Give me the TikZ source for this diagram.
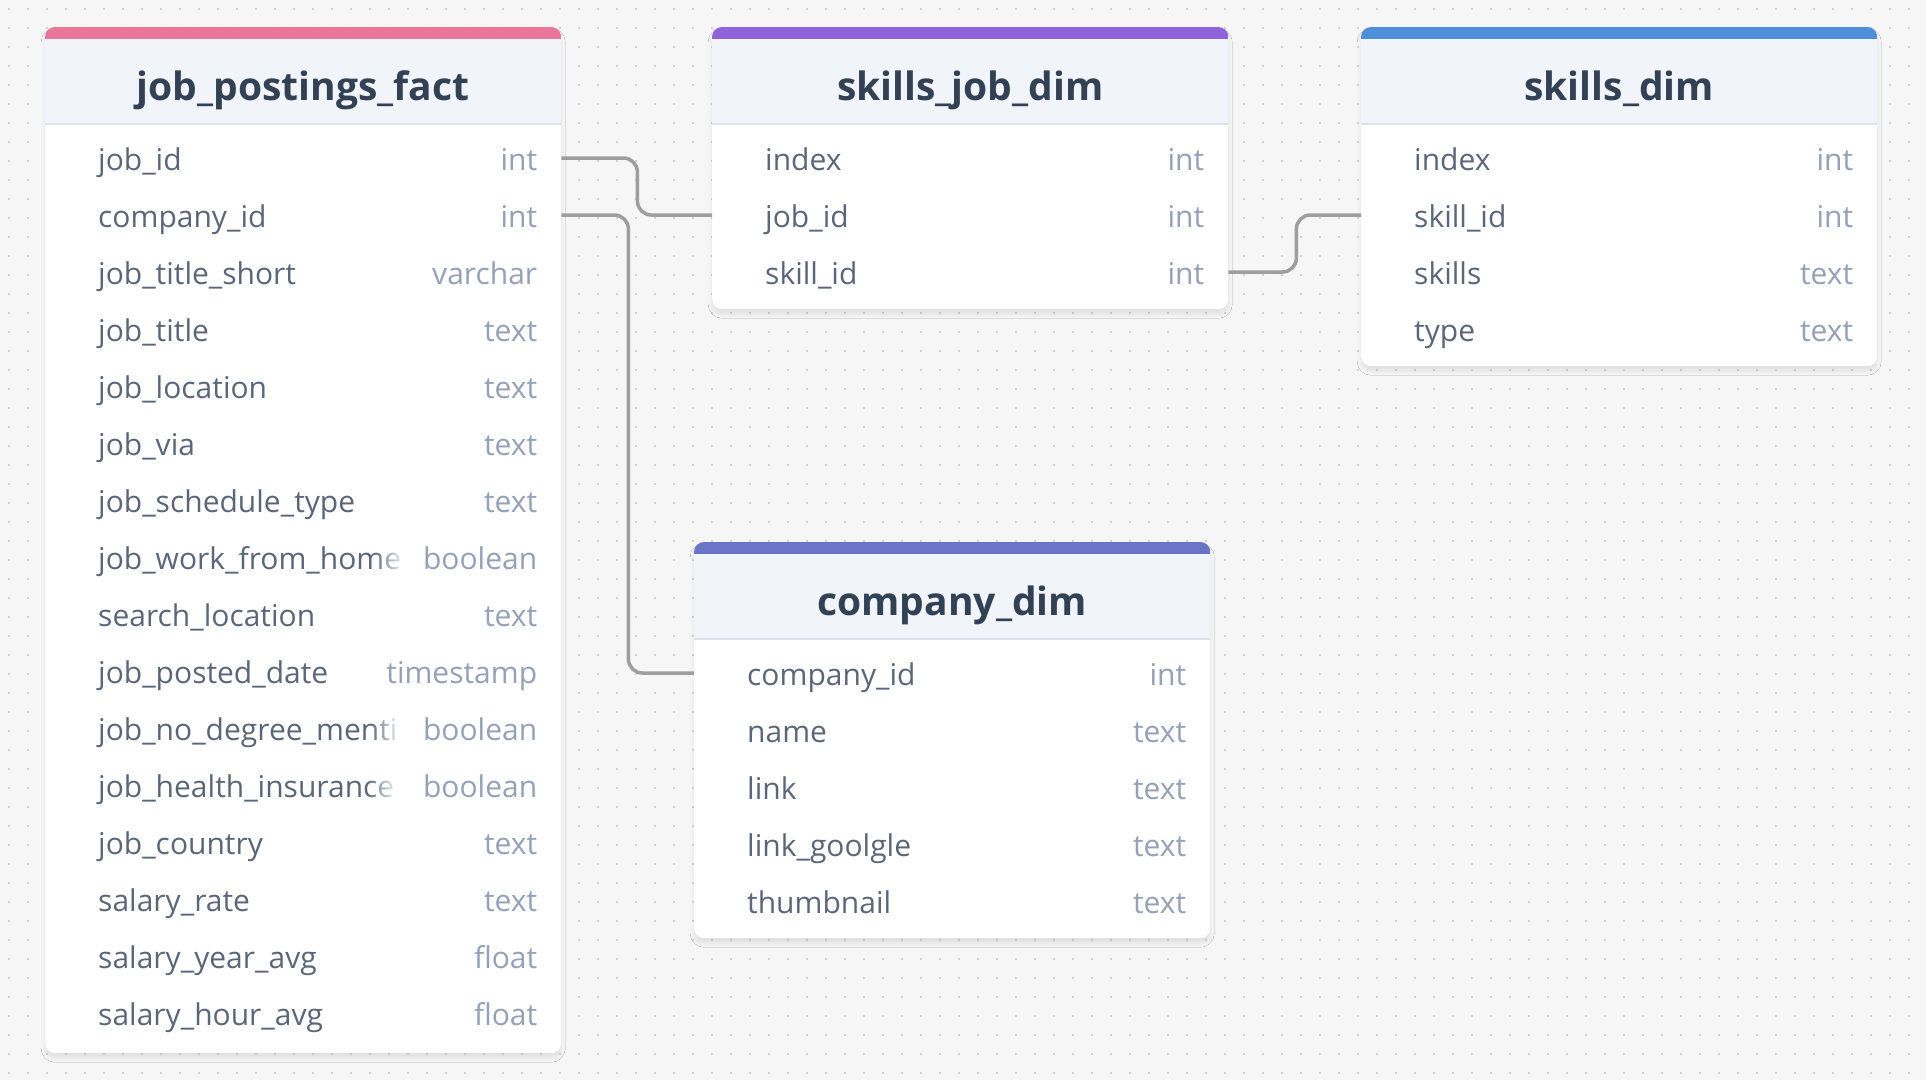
\documentclass[tikz,border=0pt]{standalone}
\usepackage{fontspec}
\setmainfont{Open Sans}
\usetikzlibrary{positioning,shadows.blur,fadings}

\definecolor{canvas}{HTML}{F6F6F6}
\definecolor{griddot}{HTML}{C6C6C6}
\definecolor{headfill}{HTML}{F1F4F9}
\definecolor{headrule}{HTML}{DCE3EC}
\definecolor{titleink}{HTML}{334155}
\definecolor{nameink}{HTML}{5B6779}
\definecolor{typeink}{HTML}{94A1B7}
\definecolor{linkgray}{HTML}{9E9E9E}
\definecolor{factpink}{HTML}{E8779B}
\definecolor{bridgepurple}{HTML}{8F64DA}
\definecolor{skillblue}{HTML}{4F8ED8}
\definecolor{companyblue}{HTML}{6A75C8}

\tikzset{
  tablebody/.style={fill=white, rounded corners=10pt, inner sep=0pt, minimum width=516pt, anchor=north west,
    blur shadow={shadow xshift=0pt, shadow yshift=-5pt, shadow blur radius=4pt, shadow blur steps=8, shadow opacity=9}},
  tabletitle/.style={font=\fontsize{39}{44}\selectfont\bfseries, text=titleink, inner sep=0pt, text height=29pt, text depth=9pt},
  rowbox/.style={minimum width=516pt, minimum height=57pt, inner sep=0pt},
  fieldname/.style={font=\fontsize{30}{36}\selectfont, text=nameink, inner sep=0pt, anchor=west, text height=30pt, text depth=5pt},
  fieldtype/.style={fieldname, text=typeink, anchor=east},
  headline/.style={draw=headrule, line width=1.5pt},
  link/.style={draw=linkgray, line width=3.5pt, rounded corners=14pt},
  fadeout/.style={fill=white, path fading=west},
}

\begin{document}
\begin{tikzpicture}[x=1pt,y=-1pt]
\useasboundingbox (0,0) rectangle (1926,1080);
\fill[canvas] (0,0) rectangle (1926,1080);
\foreach \i in {0,...,101}
  \foreach \j in {0,...,56}
    \fill[griddot] (9+\i*19,9+\j*19) circle (1.2pt);

% job_postings_fact
\node[tablebody, minimum height=1026pt] (jpf) at (45,27) {};
\begin{scope}
  \clip[rounded corners=10pt] (jpf.north west) rectangle (jpf.south east);
  \fill[headfill] (jpf.north west) rectangle ([yshift=-97pt]jpf.north east);
  \fill[factpink] (jpf.north west) rectangle ([yshift=-12pt]jpf.north east);
\end{scope}
\draw[headline] ([yshift=-97pt]jpf.north west) -- ([yshift=-97pt]jpf.north east);
\node[tabletitle] (jpf-title) at ([yshift=-63pt]jpf.north) {job\_postings\_fact};
\foreach \lab/\typ [count=\k] in {job\_id/int, company\_id/int, job\_title\_short/varchar,
    job\_title/text, job\_location/text, job\_via/text, job\_schedule\_type/text,
    job\_work\_from\_home/boolean, search\_location/text, job\_posted\_date/timestamp,
    job\_no\_degree\_menti/boolean, job\_health\_insurance/boolean, job\_country/text,
    salary\_rate/text, salary\_year\_avg/float, salary\_hour\_avg/float}{
  \node[rowbox] (jpf-\k) at ([yshift={-74-57*\k}]jpf.north) {};
  \node[fieldname] (jpf-\k-n) at ([xshift=53pt]jpf-\k.west) {\lab};
  \node[fieldtype] (jpf-\k-t) at ([xshift=-24pt]jpf-\k.east) {\typ};
}
\foreach \k in {8,11,12}
  \fill[fadeout] ([xshift=-28pt,yshift=-4pt]jpf-\k-n.north east) rectangle ([xshift=4pt]jpf-\k-n.south east);

% skills_job_dim
\node[tablebody, minimum height=282pt] (sjd) at (712,27) {};
\begin{scope}
  \clip[rounded corners=10pt] (sjd.north west) rectangle (sjd.south east);
  \fill[headfill] (sjd.north west) rectangle ([yshift=-97pt]sjd.north east);
  \fill[bridgepurple] (sjd.north west) rectangle ([yshift=-12pt]sjd.north east);
\end{scope}
\draw[headline] ([yshift=-97pt]sjd.north west) -- ([yshift=-97pt]sjd.north east);
\node[tabletitle] (sjd-title) at ([yshift=-63pt]sjd.north) {skills\_job\_dim};
\foreach \lab/\typ [count=\k] in {index/int, job\_id/int, skill\_id/int}{
  \node[rowbox] (sjd-\k) at ([yshift={-74-57*\k}]sjd.north) {};
  \node[fieldname] (sjd-\k-n) at ([xshift=53pt]sjd-\k.west) {\lab};
  \node[fieldtype] (sjd-\k-t) at ([xshift=-24pt]sjd-\k.east) {\typ};
}

% skills_dim
\node[tablebody, minimum height=339pt] (sd) at (1361,27) {};
\begin{scope}
  \clip[rounded corners=10pt] (sd.north west) rectangle (sd.south east);
  \fill[headfill] (sd.north west) rectangle ([yshift=-97pt]sd.north east);
  \fill[skillblue] (sd.north west) rectangle ([yshift=-12pt]sd.north east);
\end{scope}
\draw[headline] ([yshift=-97pt]sd.north west) -- ([yshift=-97pt]sd.north east);
\node[tabletitle] (sd-title) at ([yshift=-63pt]sd.north) {skills\_dim};
\foreach \lab/\typ [count=\k] in {index/int, skill\_id/int, skills/text, type/text}{
  \node[rowbox] (sd-\k) at ([yshift={-74-57*\k}]sd.north) {};
  \node[fieldname] (sd-\k-n) at ([xshift=53pt]sd-\k.west) {\lab};
  \node[fieldtype] (sd-\k-t) at ([xshift=-24pt]sd-\k.east) {\typ};
}

% company_dim
\node[tablebody, minimum height=396pt] (cd) at (694,542) {};
\begin{scope}
  \clip[rounded corners=10pt] (cd.north west) rectangle (cd.south east);
  \fill[headfill] (cd.north west) rectangle ([yshift=-97pt]cd.north east);
  \fill[companyblue] (cd.north west) rectangle ([yshift=-12pt]cd.north east);
\end{scope}
\draw[headline] ([yshift=-97pt]cd.north west) -- ([yshift=-97pt]cd.north east);
\node[tabletitle] (cd-title) at ([yshift=-63pt]cd.north) {company\_dim};
\foreach \lab/\typ [count=\k] in {company\_id/int, name/text, link/text, link\_goolgle/text, thumbnail/text}{
  \node[rowbox] (cd-\k) at ([yshift={-74-57*\k}]cd.north) {};
  \node[fieldname] (cd-\k-n) at ([xshift=53pt]cd-\k.west) {\lab};
  \node[fieldtype] (cd-\k-t) at ([xshift=-24pt]cd-\k.east) {\typ};
}

% relations
\draw[link] (jpf-1.east) -- ++(76,0) |- (sjd-2.west);
\draw[link] (jpf-2.east) -- ++(67,0) |- (cd-1.west);
\draw[link] (sjd-3.east) -- ++(68,0) |- (sd-2.west);
\end{tikzpicture}
\end{document}
